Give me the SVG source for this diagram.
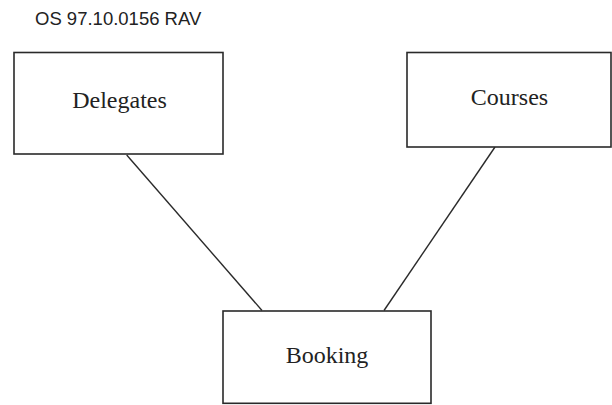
<svg xmlns="http://www.w3.org/2000/svg" width="612" height="405" viewBox="0 0 612 405">
<style>
.box{fill:#fff;stroke:#2a2a2a;stroke-width:1.6}
.lbl{font-family:"Liberation Serif","Times New Roman",serif;font-size:24px;fill:#222;text-anchor:middle}
.con{stroke:#2a2a2a;stroke-width:1.4;fill:none}
</style>
<rect width="612" height="405" fill="#fff"/>
<text x="35" y="25" font-family="Liberation Sans, Arial, sans-serif" font-size="18.5" fill="#222">OS 97.10.0156 RAV</text>
<g id="connectors">
<line class="con" x1="126.7" y1="155" x2="262" y2="310.5"/>
<line class="con" x1="495" y1="147" x2="384" y2="310.5"/>
</g>
<g id="delegates">
<rect class="box" x="14" y="52.5" width="209" height="101.5"/>
<text class="lbl" x="119.5" y="108">Delegates</text>
</g>
<g id="courses">
<rect class="box" x="407" y="52.5" width="204" height="94.5"/>
<text class="lbl" x="509.5" y="105">Courses</text>
</g>
<g id="booking">
<rect class="box" x="223" y="311" width="208" height="92.3"/>
<text class="lbl" x="327" y="363">Booking</text>
</g>
</svg>
